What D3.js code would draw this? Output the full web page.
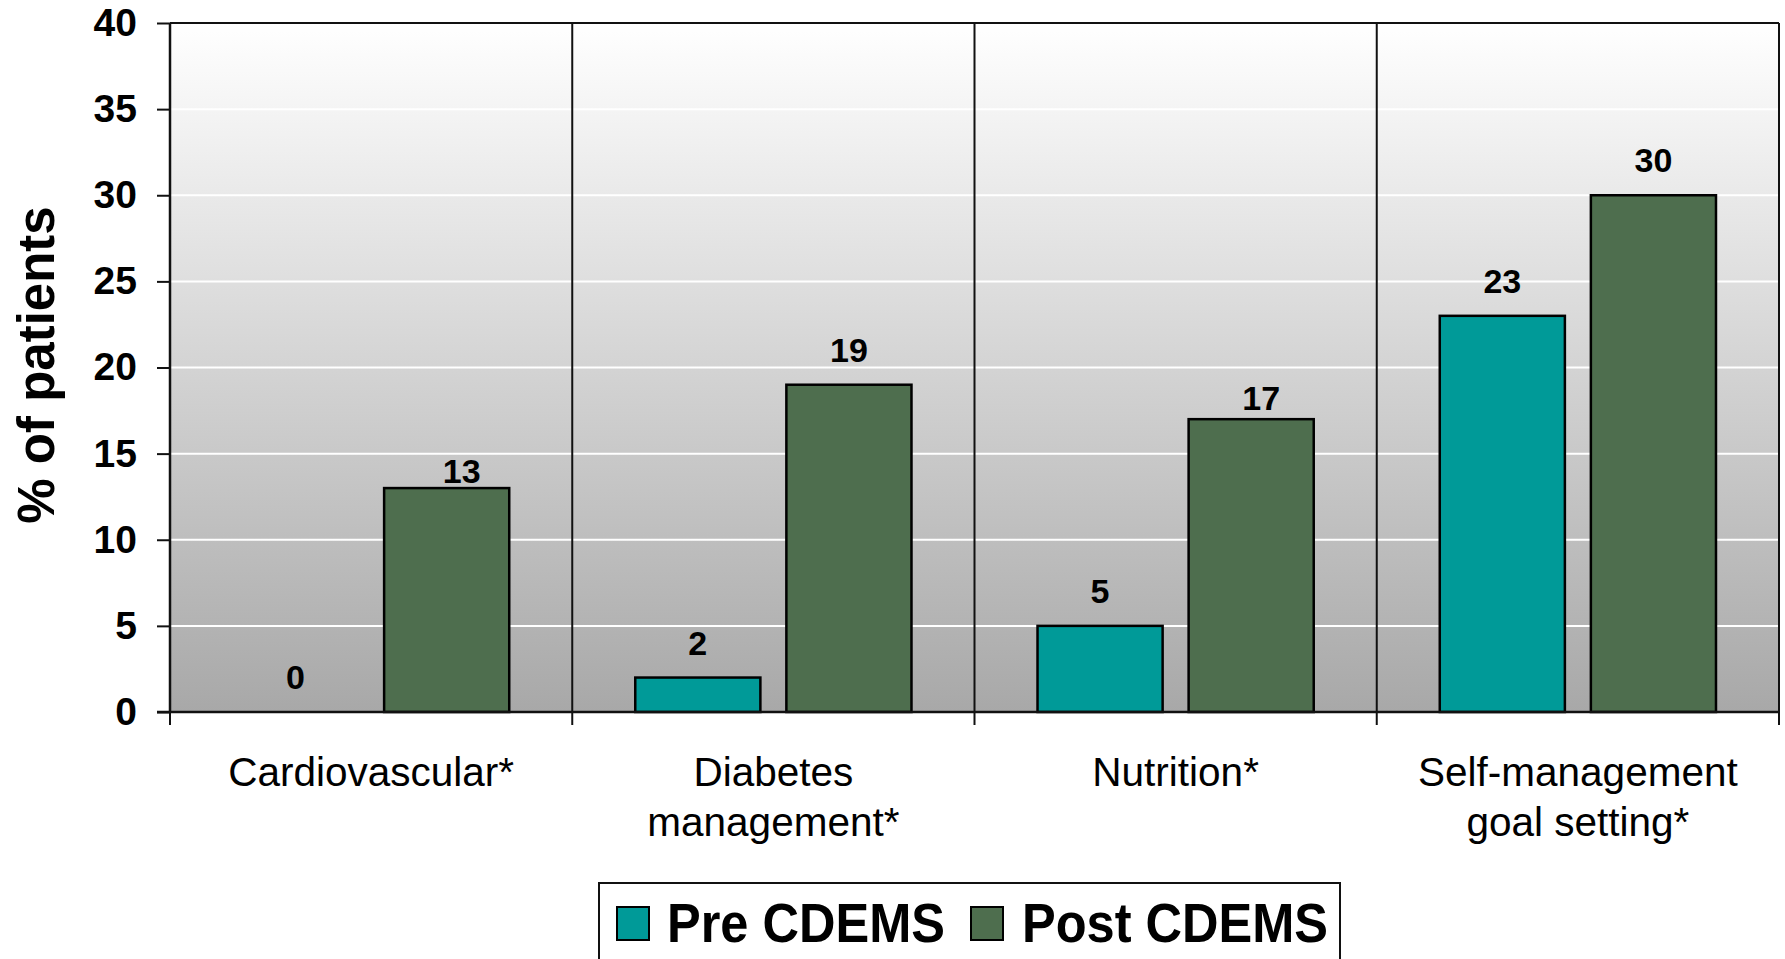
<!DOCTYPE html>
<html>
<head>
<meta charset="utf-8">
<script src="https://cdn.jsdelivr.net/npm/d3@7"></script>
<style>
  html, body { margin: 0; padding: 0; background: #ffffff; }
  svg { display: block; font-family: "Liberation Sans", Arial, sans-serif; }
</style>
</head>
<body>
<svg id="chart" width="1785" height="959"></svg>
<script>
// Topics discussed, share of patients before and after CDEMS
const categories = ["Cardiovascular*", "Diabetes management*", "Nutrition*", "Self-management goal setting*"];
const categoryLines = [["Cardiovascular*"], ["Diabetes", "management*"], ["Nutrition*"], ["Self-management", "goal setting*"]];
const seriesNames = ["Pre CDEMS", "Post CDEMS"];
const preValues = [0, 2, 5, 23];
const postValues = [13, 19, 17, 30];
const yTicks = [0, 5, 10, 15, 20, 25, 30, 35, 40];
const yTitle = "% of patients";

const colors = { "Pre CDEMS": "#009a98", "Post CDEMS": "#4e6e4e" };

const svg = d3.select("#chart");
const plot = { left: 170, top: 23, right: 1779, bottom: 712 };

const x0 = d3.scaleBand().domain(categories).range([plot.left, plot.right]).paddingInner(0).paddingOuter(0);
const x1 = d3.scaleBand().domain(seriesNames).range([0, x0.bandwidth()]).paddingInner(0.172).paddingOuter(0.417);
const y = d3.scaleLinear().domain([0, 40]).range([plot.bottom, plot.top]);

const rows = categories.map((c, i) => ({
  category: c,
  lines: categoryLines[i],
  values: [
    { series: "Pre CDEMS", value: preValues[i] },
    { series: "Post CDEMS", value: postValues[i] }
  ]
}));

// plot background: vertical grey gradient
const defs = svg.append("defs");
const grad = defs.append("linearGradient").attr("id", "bg").attr("x1", 0).attr("y1", 0).attr("x2", 0).attr("y2", 1);
grad.append("stop").attr("offset", "0%").attr("stop-color", "#ffffff");
grad.append("stop").attr("offset", "100%").attr("stop-color", "#a8a8a8");

svg.append("rect")
  .attr("x", plot.left).attr("y", plot.top)
  .attr("width", plot.right - plot.left).attr("height", plot.bottom - plot.top)
  .attr("fill", "url(#bg)");

// white horizontal gridlines
svg.append("g").selectAll("line")
  .data(yTicks.filter(t => t > 0 && t < 40))
  .join("line")
  .attr("x1", plot.left).attr("x2", plot.right)
  .attr("y1", d => y(d)).attr("y2", d => y(d))
  .attr("stroke", "#ffffff").attr("stroke-width", 2);

// top frame
svg.append("line").attr("x1", plot.left).attr("x2", plot.right).attr("y1", plot.top).attr("y2", plot.top)
  .attr("stroke", "#111").attr("stroke-width", 2);

// category separators, extended below the baseline as ticks
const bounds = categories.map(c => x0(c)).concat([plot.right]);
svg.append("g").selectAll("line")
  .data(bounds)
  .join("line")
  .attr("x1", d => d).attr("x2", d => d)
  .attr("y1", plot.top).attr("y2", plot.bottom + 13)
  .attr("stroke", "#111").attr("stroke-width", 2);

// bars
const groups = svg.append("g").selectAll("g")
  .data(rows)
  .join("g")
  .attr("transform", d => `translate(${x0(d.category)},0)`);

groups.selectAll("rect")
  .data(d => d.values.filter(v => v.value > 0))
  .join("rect")
  .attr("x", d => x1(d.series))
  .attr("y", d => y(d.value))
  .attr("width", x1.bandwidth())
  .attr("height", d => y(0) - y(d.value))
  .attr("fill", d => colors[d.series])
  .attr("stroke", "#000").attr("stroke-width", 2.5);

// value labels above bars (a couple are hand-nudged to clear gridlines)
const labelNudge = {
  "Cardiovascular*|Post CDEMS": { dx: 15, gap: 5 },
  "Nutrition*|Post CDEMS": { dx: 10, gap: 9 }
};
const defaultGap = 23;
groups.each(function (row) {
  d3.select(this).selectAll("text.val")
    .data(row.values)
    .join("text")
    .attr("class", "val")
    .attr("x", d => {
      const n = labelNudge[row.category + "|" + d.series];
      return x1(d.series) + x1.bandwidth() / 2 + (n ? n.dx : 0);
    })
    .attr("y", d => {
      const n = labelNudge[row.category + "|" + d.series];
      return y(d.value) - (n ? n.gap : defaultGap);
    })
    .attr("text-anchor", "middle")
    .attr("font-size", 34).attr("font-weight", "bold").attr("fill", "#000")
    .text(d => d.value);
});

// y axis
const yAxis = svg.append("g")
  .attr("transform", `translate(${plot.left},0)`)
  .call(d3.axisLeft(y).tickValues(yTicks).tickSize(13).tickPadding(20).tickFormat(d3.format("d")));
yAxis.select(".domain").attr("stroke", "#111").attr("stroke-width", 2.5).attr("d", `M0,${plot.top}V${plot.bottom}`);
yAxis.selectAll(".tick line").attr("stroke", "#111").attr("stroke-width", 2);
yAxis.selectAll(".tick text")
  .attr("font-size", 39).attr("font-weight", "bold").attr("fill", "#000")
  .attr("font-family", "Liberation Sans, Arial, sans-serif");

// baseline
svg.append("line").attr("x1", plot.left - 13).attr("x2", plot.right).attr("y1", plot.bottom).attr("y2", plot.bottom)
  .attr("stroke", "#111").attr("stroke-width", 2.5);

// category labels
const catLabels = svg.append("g").selectAll("text")
  .data(rows)
  .join("text")
  .attr("x", d => x0(d.category) + x0.bandwidth() / 2)
  .attr("y", 786)
  .attr("text-anchor", "middle")
  .attr("font-size", 40.5).attr("fill", "#000");
catLabels.selectAll("tspan")
  .data(d => d.lines)
  .join("tspan")
  .attr("x", function () { return d3.select(this.parentNode).attr("x"); })
  .attr("dy", (d, i) => i === 0 ? 0 : 50)
  .text(d => d);

// y axis title
svg.append("text")
  .attr("transform", "translate(54,365) rotate(-90)")
  .attr("text-anchor", "middle")
  .attr("font-size", 51).attr("font-weight", "bold").attr("fill", "#000")
  .text(yTitle);

// legend
const legend = svg.append("g");
legend.append("rect")
  .attr("x", 599).attr("y", 883).attr("width", 741).attr("height", 120)
  .attr("fill", "#ffffff").attr("stroke", "#111").attr("stroke-width", 2);
const legendItems = [
  { name: seriesNames[0], sx: 617, tx: 667, w: 278 },
  { name: seriesNames[1], sx: 971, tx: 1022, w: 306 }
];
legendItems.forEach(it => {
  legend.append("rect")
    .attr("x", it.sx).attr("y", 907).attr("width", 32).attr("height", 33)
    .attr("fill", colors[it.name]).attr("stroke", "#000").attr("stroke-width", 2);
  legend.append("text")
    .attr("x", it.tx).attr("y", 942)
    .attr("font-size", 55).attr("font-weight", "bold").attr("fill", "#000")
    .attr("textLength", it.w).attr("lengthAdjust", "spacingAndGlyphs")
    .text(it.name);
});
</script>
</body>
</html>
